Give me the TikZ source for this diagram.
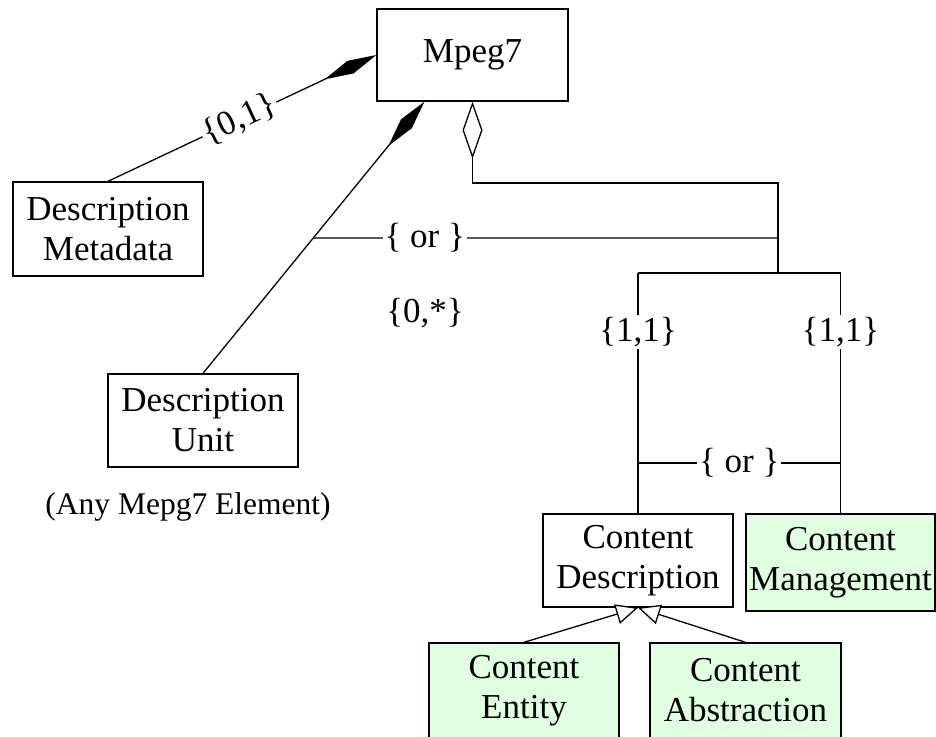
\documentclass[tikz,border=0pt]{standalone}
\usepackage{fontspec}
\setmainfont{Liberation Serif}
\usetikzlibrary{arrows.meta,calc}
\definecolor{mintfill}{RGB}{224,255,224}
\newcommand\boxfont{\fontsize{35}{40}\selectfont}
\newcommand\notefont{\fontsize{31.5}{36}\selectfont}
\tikzset{
  classbox/.style={draw, line width=1.4pt, inner sep=0pt, align=center,
    minimum width=190pt, minimum height=93pt, font=\boxfont},
  greenbox/.style={classbox, fill=mintfill},
  conn/.style={line width=1.3pt},
  comp/.style={conn, -{Diamond[length=57pt,width=14pt]}},
  agg/.style={conn, -{Diamond[open,length=57pt,width=20pt,fill=white]}},
  inh/.style={conn, -{Triangle[open,length=22pt,width=20pt,fill=white]}},
  lab/.style={fill=white, inner sep=2pt, font=\boxfont},
}
\begin{document}
\begin{tikzpicture}[x=1pt,y=-1pt]
\clip (0,0) rectangle (936,736);
\fill[white] (0,0) rectangle (936,736);

% classes
\node[classbox, minimum width=191pt, minimum height=92pt] (mpeg) at (472.5,55) {Mpeg7};
\node[classbox, minimum height=94pt] (meta) at (108,229) {Description\\Metadata};
\node[classbox] (unit) at (203,420.5) {Description\\Unit};
\node[font=\notefont] (anyel) at (188,507) {(Any Mepg7 Element)};
\node[classbox] (cdesc) at (638,560.5) {Content\\Description};
\node[greenbox, minimum width=189pt, minimum height=97pt] (cmgmt) at (840.5,562.5) {Content\\Management};
\node[greenbox, minimum height=95pt] (centity) at (524,690.5) {Content\\Entity};
\node[greenbox, minimum width=191pt, minimum height=95pt] (cabs) at (745.5,690.5) {Content\\Abstraction};

% helper points
\coordinate (mA) at ($(mpeg.south west)!0.25!(mpeg.south east)$);
\coordinate (orL) at ($(unit.north)!0.498!(mA)$);
\coordinate (jTop) at (778,183);
\coordinate (jMid) at (778,238);
\coordinate (jBot) at (778,273);
\coordinate (orY) at (700,463);

% composition links
\draw[comp] (meta.north) -- (mpeg.west)
  node[pos=0.49, sloped, lab] {\{0,1\}};
\draw[comp] (unit.north) -- (mA);

% aggregation of the content part
\draw[agg] (jBot) -- (jTop) -| (mpeg.south);
\draw[conn] (orL) -- (jMid) node[pos=0.24, lab] {\{ or \}};
\node[font=\boxfont] (many) at (425,313) {\{0,*\}};

\draw[conn] (cdesc.north |- jBot) -- (cmgmt.north |- jBot);
\draw[conn] (cdesc.north |- jBot) -- (cdesc.north)
  node[pos=0.245, lab] {\{1,1\}};
\draw[conn] (cmgmt.north |- jBot) -- (cmgmt.north)
  node[pos=0.245, lab] {\{1,1\}};
\draw[conn] (cdesc.north |- orY) -- (cmgmt.north |- orY)
  node[midway, lab] {\{ or \}};

% generalisation
\draw[inh] (centity.north) -- (cdesc.south);
\draw[inh] (cabs.north) -- (cdesc.south);
\end{tikzpicture}
\end{document}
